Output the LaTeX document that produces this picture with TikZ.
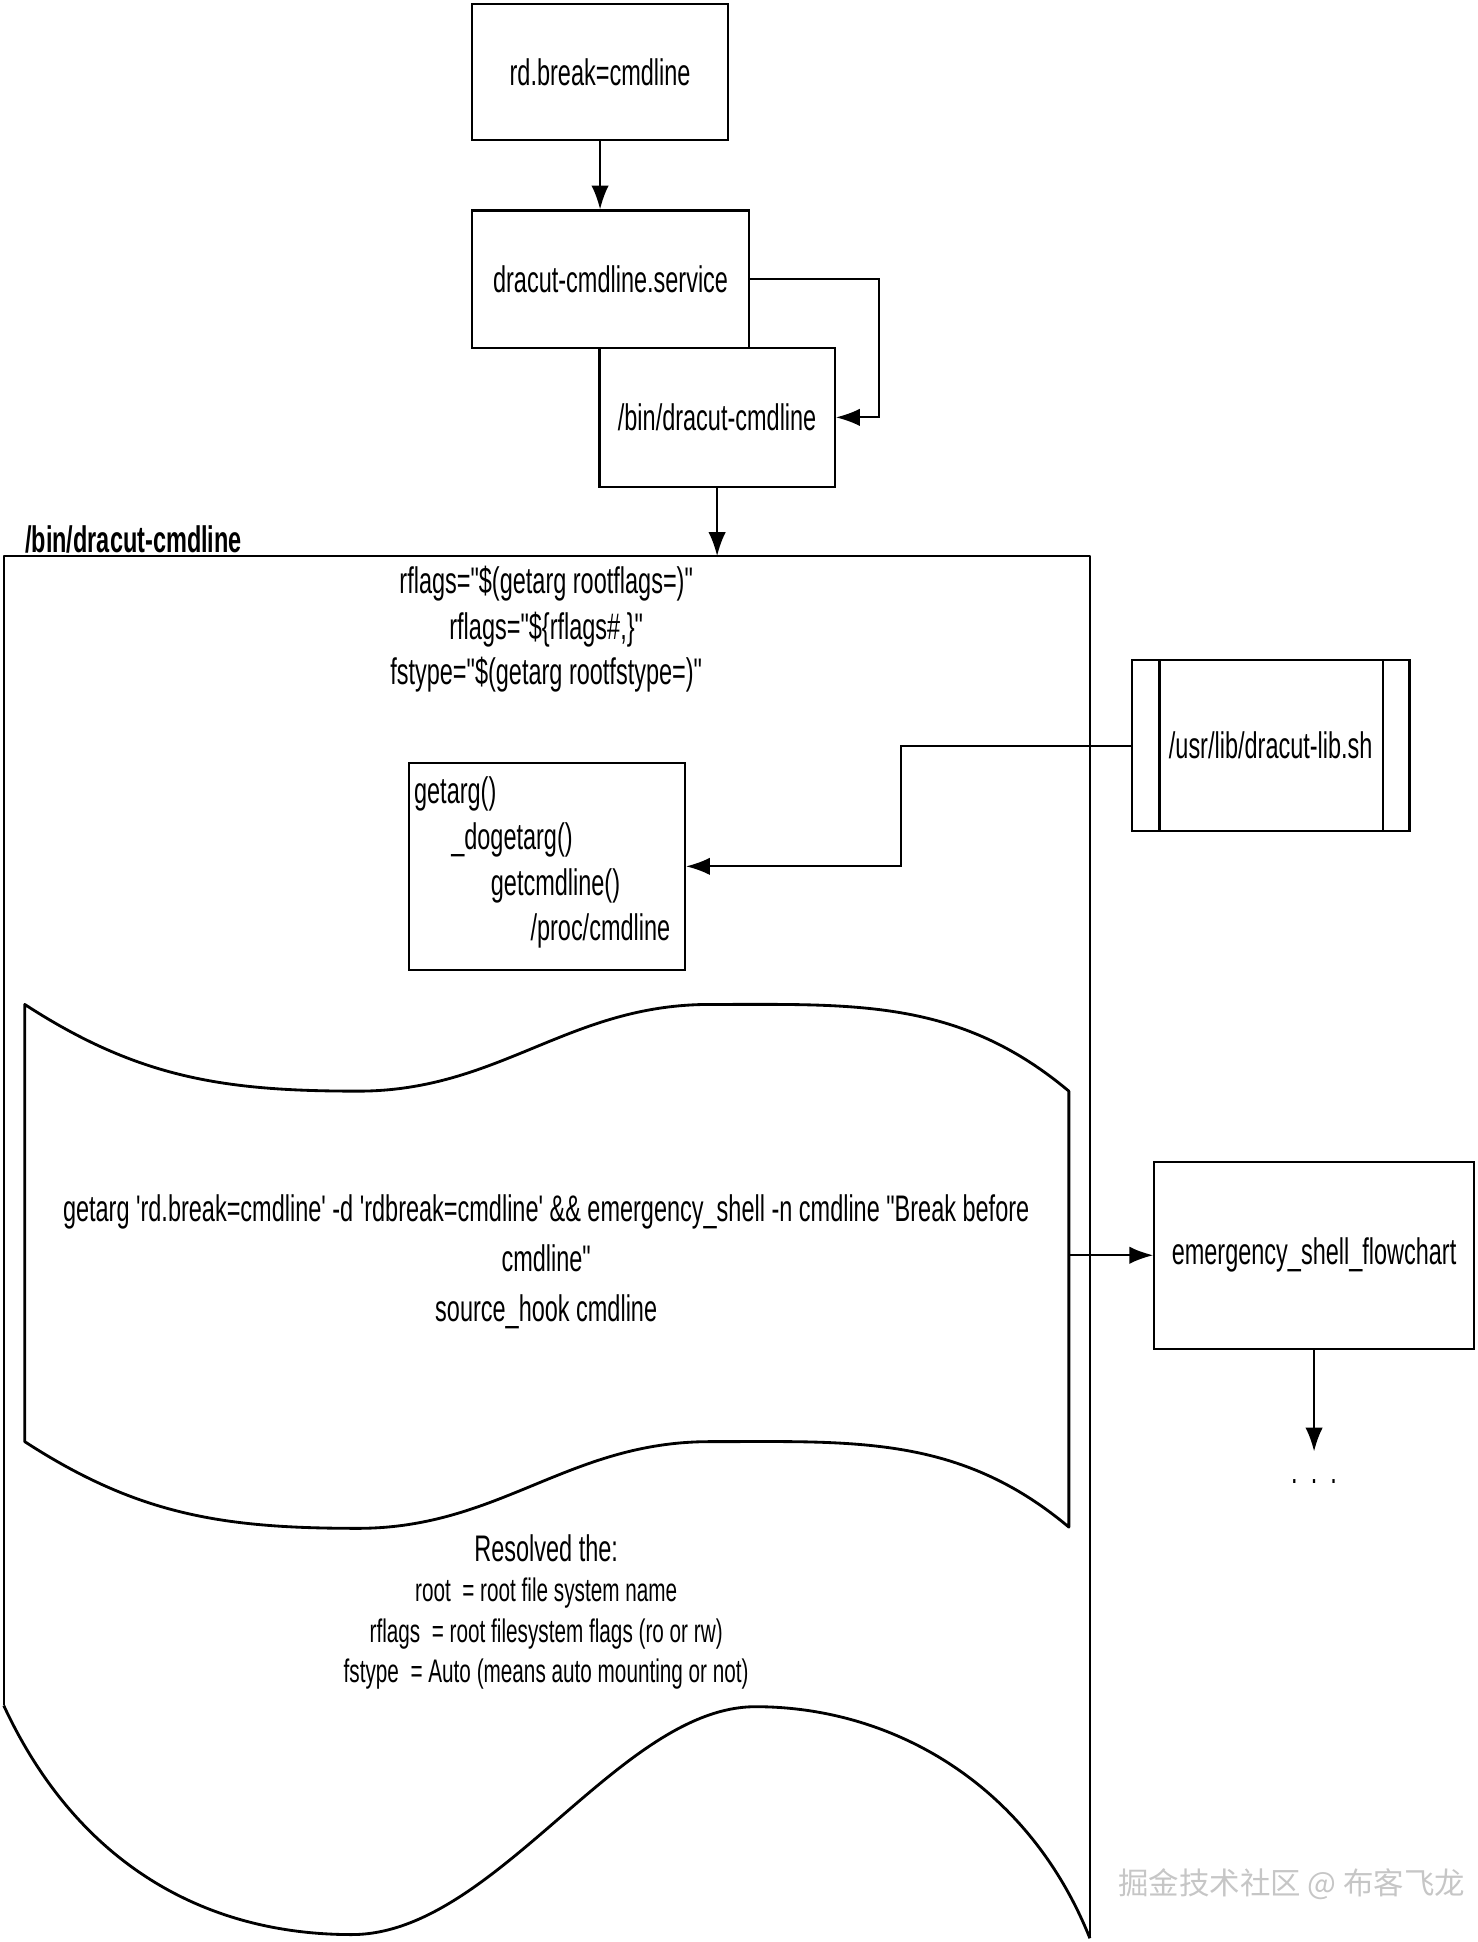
\documentclass[tikz,border=0pt]{standalone}
\usepackage{fontspec}
\setmainfont{Liberation Sans}[FakeStretch=0.635, Ligatures=TeXOff]
\newfontfamily\cjk{Noto Sans CJK SC}
\usetikzlibrary{arrows.meta,positioning,calc}

\tikzset{
  box/.style={draw, line width=1pt, inner sep=2pt},
  txt/.style={font=\fontsize{17}{20}\selectfont, inner sep=0pt},
  small/.style={font=\fontsize{15}{18}\selectfont, inner sep=0pt},
  arr/.style={line width=1pt, -{Latex[length=11pt,width=8pt]}}
}

\begin{document}
\begin{tikzpicture}[x=0.02cm,y=-0.02cm]
\useasboundingbox (0,0) rectangle (1193,1568);

% top chain
\node[box, txt, minimum width=4.14cm, minimum height=2.2cm] (brk) at (484.5,58) {rd.break=cmdline};
\node[box, txt, minimum width=3.8cm, minimum height=2.24cm] (bin) at (579,337) {/bin/dracut-cmdline};
\node[box, txt, minimum width=4.48cm, minimum height=2.22cm] (svc) at (493,225.5) {dracut-cmdline.service};

\draw[arr] (brk.south) -- (brk.south |- svc.north);
\draw[arr] (svc.east) -- ++(104,0) |- (bin.east);

% outer frame with wavy bottom
\node[txt, anchor=south west, font=\fontsize{17}{20}\selectfont\bfseries] (frmlbl) at (20,447) {/bin/dracut-cmdline};
\coordinate (frmtop) at (579,449);
\draw[line width=1pt, line join=round] (3,1377) -- (3,449) -- (880,449) -- (880,1565);
\draw[line width=1.3pt] (880,1565)
  .. controls (830,1440) and (720,1378) .. (610,1378)
  .. controls (500,1378) and (400,1562) .. (284,1562)
  .. controls (160,1562) and (60,1500) .. (3,1377);
\draw[arr] (bin.south) -- (frmtop);

\node[txt] (rf1) at (441,471) {rflags="\$(getarg rootflags=)"};
\node[txt] (rf2) at (441,508) {rflags="\$\{rflags\#,\}"};
\node[txt] (fst) at (441,545) {fstype="\$(getarg rootfstype=)"};

% getarg call chain
\node[box, minimum width=4.46cm, minimum height=3.34cm] (get) at (441.5,699.5) {};
\node[txt, anchor=west] (g1) at (334,641) {getarg()};
\node[txt, anchor=west] (g2) at (364,678) {\_dogetarg()};
\node[txt, anchor=west] (g3) at (396,715) {getcmdline()};
\node[txt, anchor=west] (g4) at (428,752) {/proc/cmdline};

% library
\node[box, txt, minimum width=4.48cm, minimum height=2.76cm] (lib) at (1026,602) {/usr/lib/dracut-lib.sh};
\draw[line width=1pt] ($(lib.north west)+(23,0)$) -- ($(lib.south west)+(23,0)$);
\draw[line width=1pt] ($(lib.north east)+(-22,0)$) -- ($(lib.south east)+(-22,0)$);
\draw[arr] (lib.west) -- ++(-186,0) |- (get.east);

% tape shape
\draw[line width=1.3pt, line join=round] (20,811) to[out=-33,in=180] (289,881) to[out=0,in=180] (573,811)
  to[out=0,in=140] (863,881) -- (863,1233) to[out=140,in=0] (573,1164)
  to[out=180,in=0] (289,1234) to[out=180,in=-33] (20,1164) -- cycle;
\node[txt, align=center] (cmd) at (441,1019) {getarg 'rd.break=cmdline' -d 'rdbreak=cmdline' \&\& emergency\_shell -n cmdline "Break before\\[3pt]cmdline"\\[3pt]source\_hook cmdline};
\coordinate (tapee) at (863,1013.5);

\node[box, txt, minimum width=5.16cm, minimum height=3.02cm] (emg) at (1061,1013.5) {emergency\_shell\_flowchart};
\draw[arr] (tapee) -- (emg.west);
\coordinate (dtop) at (1061,1172);
\draw[arr] (emg.south) -- (dtop);
\node[txt] (dots) at (1061,1196) {.\ \ .\ \ .};

% results
\node[txt] (res) at (441,1250) {Resolved the:};
\node[small] (r1) at (441,1286) {root\ \ = root file system name};
\node[small] (r2) at (441,1319) {rflags\ \ = root filesystem flags (ro or rw)};
\node[small] (r3) at (441,1352) {fstype\ \ = Auto (means auto mounting or not)};

\node[font=\cjk\fontsize{14}{16}\selectfont, text=gray!45] (wm) at (1043,1521) {掘金技术社区 @ 布客飞龙};
\end{tikzpicture}
\end{document}
